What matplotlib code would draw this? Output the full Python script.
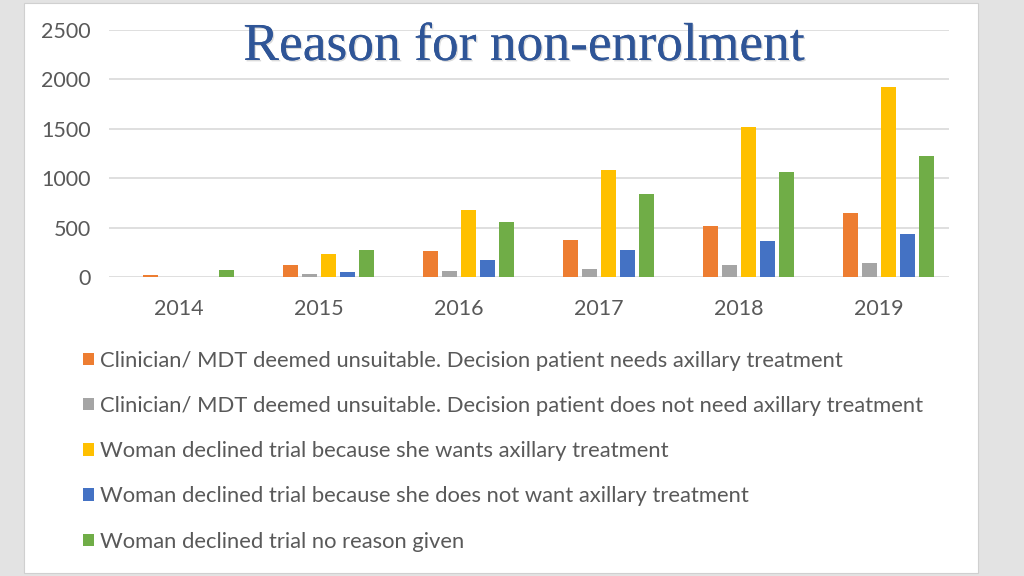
import numpy as np
import matplotlib
matplotlib.use("Agg")
import matplotlib.pyplot as plt
import matplotlib.patheffects as pe
from matplotlib.patches import Rectangle

years = ["2014", "2015", "2016", "2017", "2018", "2019"]
needs_axillary = [17, 118, 263, 378, 516, 648]
no_axillary_needed = [0, 30, 58, 78, 118, 142]
wants_axillary = [0, 236, 675, 1087, 1522, 1927]
not_want_axillary = [0, 54, 172, 273, 364, 439]
no_reason = [68, 273, 561, 840, 1060, 1225]

series = [
    ("Clinician/ MDT deemed unsuitable. Decision patient needs axillary treatment", needs_axillary, "#ED7D31"),
    ("Clinician/ MDT deemed unsuitable. Decision patient does not need axillary treatment", no_axillary_needed, "#A5A5A5"),
    ("Woman declined trial because she wants axillary treatment", wants_axillary, "#FFC000"),
    ("Woman declined trial because she does not want axillary treatment", not_want_axillary, "#4472C4"),
    ("Woman declined trial no reason given", no_reason, "#70AD47"),
]

plt.rcParams['font.family'] = ['Lato', 'DejaVu Sans']
txt_color = "#595959"

fig = plt.figure(figsize=(10.24, 5.76), dpi=100)
fig.patch.set_facecolor("#e3e3e3")
# white slide panel
fig.patches.append(Rectangle((24 / 1024, 3 / 576), 954 / 1024, 570 / 576,
                             transform=fig.transFigure, facecolor="white",
                             edgecolor="#d0d0d0", lw=0.8, zorder=-1))

ax = fig.add_axes([109 / 1024, 299 / 576, 840 / 1024, 247 / 576])
ax.set_zorder(1)
ax.patch.set_alpha(0)
x = np.arange(len(years))
pitch = 0.136
width = 0.107
handles = []
for k, (label, vals, color) in enumerate(series):
    b = ax.bar(x + (k - 1.5) * pitch, vals, width, color=color, label=label, zorder=3)
    handles.append(b)

ax.set_xlim(-0.5, len(years) - 0.5)
ax.set_ylim(0, 2500)
ax.set_yticks(range(0, 2501, 500))
ax.set_xticks(x)
ax.set_xticklabels(years)
ax.grid(axis="y", color="#d9d9d9", lw=1.2, zorder=0)
for s in ax.spines.values():
    s.set_visible(False)
ax.tick_params(axis="both", length=0, labelsize=15.5, colors=txt_color)
ax.tick_params(axis="y", pad=13)
ax.tick_params(axis="x", pad=16)

fig.text(0.512, 1 - 47 / 576, "Reason for non-enrolment", ha="center", va="center",
         fontsize=38.5, color="#2F5597", family=["Liberation Serif", "DejaVu Serif"], zorder=5,
         path_effects=[pe.withSimplePatchShadow(offset=(1, -1), shadow_rgbFace="#999999", alpha=0.35),
                       pe.Normal()])

leg = fig.legend(handles=handles, loc="upper left", bbox_to_anchor=(63 / 1024, 1 - 331 / 576),
                 frameon=False, fontsize=15.8, handlelength=0.5, handleheight=0.5,
                 handletextpad=0.3, labelspacing=1.15, labelcolor=txt_color)

fig.savefig("out.png", dpi=100, facecolor=fig.get_facecolor())
